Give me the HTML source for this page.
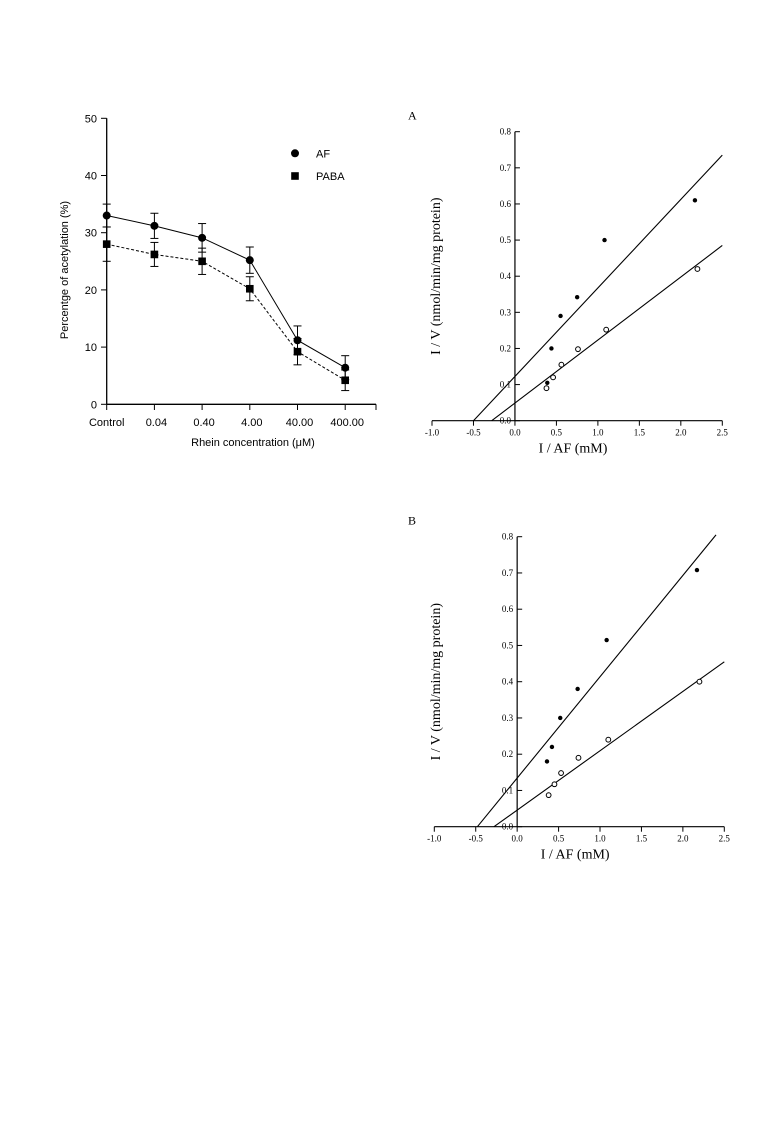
<!DOCTYPE html>
<html><head><meta charset="utf-8"><style>
html,body{margin:0;padding:0;background:#fff}
svg{display:block}
</style></head><body>
<svg id="s" width="784" height="1124" xmlns="http://www.w3.org/2000/svg"></svg>
<script>
// Chart 1 data
const cats=["Control","0.04","0.40","4.00","40.00","400.00"];
const afVals=[33,31.2,29.1,25.2,11.2,6.4];
const afErr=[2,2.2,2.5,2.3,2.5,2.1];
const pabaVals=[28,26.2,25,20.2,9.2,4.2];
const pabaErr=[3,2.1,2.3,2.1,2.3,1.8];
const yTicks1=[0,10,20,30,40,50];
// Chart A data
const aFilledX=[0.39,0.44,0.55,0.75,1.08,2.17];
const aFilledY=[0.105,0.2,0.29,0.342,0.5,0.61];
const aOpenX=[0.38,0.46,0.56,0.76,1.1,2.2];
const aOpenY=[0.09,0.12,0.155,0.198,0.252,0.42];
const aFilledLine=[[-0.5,0],[2.5,0.735]];
const aOpenLine=[[-0.28,0],[2.5,0.485]];
// Chart B data
const bFilledX=[0.36,0.42,0.52,0.73,1.08,2.17];
const bFilledY=[0.18,0.22,0.3,0.38,0.515,0.708];
const bOpenX=[0.38,0.45,0.53,0.74,1.1,2.2];
const bOpenY=[0.087,0.117,0.148,0.19,0.24,0.4];
const bFilledLine=[[-0.48,0],[2.4,0.805]];
const bOpenLine=[[-0.28,0],[2.5,0.455]];
const lbXTicks=["-1.0","-0.5","0.0","0.5","1.0","1.5","2.0","2.5"];
const lbYTicks=["0.0","0.1","0.2","0.3","0.4","0.5","0.6","0.7","0.8"];

const svg=document.getElementById('s');
const NS="http://www.w3.org/2000/svg";
function el(tag,attrs,text,name){const e=document.createElementNS(NS,tag);for(const k in attrs)e.setAttribute(k,attrs[k]);if(text!==undefined&&text!==null)e.textContent=text;


svg.appendChild(e);return e;}

// ---- Chart 1
const x1=i=>106.7+i*47.7;
const y1=v=>404.3-v*5.72;
el('line',{x1:106.7,y1:118.3,x2:106.7,y2:404.3,stroke:'#000','stroke-width':1.3},null,'y-axis');
el('line',{x1:106.7,y1:404.3,x2:376,y2:404.3,stroke:'#000','stroke-width':1.3},null,'x-axis');
yTicks1.forEach(t=>{el('line',{x1:101,y1:y1(t),x2:106.7,y2:y1(t),stroke:'#000'},null,'y-tick');
el('text',{x:97,y:y1(t)+4,'text-anchor':'end','font-family':'Liberation Sans, sans-serif','font-size':11},t,'y-tick-label');});
cats.forEach((c,i)=>{el('line',{x1:x1(i),y1:404.3,x2:x1(i),y2:410,stroke:'#000'},null,'x-tick');
el('text',{x:x1(i)+(i==0?0:2),y:426,'text-anchor':'middle','font-family':'Liberation Sans, sans-serif','font-size':11},c,'x-tick-label');});
el('line',{x1:376,y1:404.3,x2:376,y2:410,stroke:'#000'},null,'x-tick');
el('text',{x:253,y:446,'text-anchor':'middle','font-family':'Liberation Sans, sans-serif','font-size':11},'Rhein concentration (\u03bcM)','x-axis-title');
el('text',{x:68,y:270,'text-anchor':'middle','font-family':'Liberation Sans, sans-serif','font-size':11,transform:'rotate(-90 68 270)'},'Percentge of acetylation (%)','y-axis-title');
function series(vals,errs,dash,shape,name){
 el('polyline',{points:vals.map((v,i)=>x1(i)+','+y1(v)).join(' '),fill:'none',stroke:'#000','stroke-width':1,'stroke-dasharray':dash},null,name+'-line');
 vals.forEach((v,i)=>{const x=x1(i);
  el('line',{x1:x,y1:y1(v-errs[i]),x2:x,y2:y1(v+errs[i]),stroke:'#000'},null,name+'-error-bar');
  el('line',{x1:x-4,y1:y1(v-errs[i]),x2:x+4,y2:y1(v-errs[i]),stroke:'#000'},null,name+'-error-cap');
  el('line',{x1:x-4,y1:y1(v+errs[i]),x2:x+4,y2:y1(v+errs[i]),stroke:'#000'},null,name+'-error-cap');
  if(shape=='c')el('circle',{cx:x,cy:y1(v),r:4},null,name+'-point');else el('rect',{x:x-3.8,y:y1(v)-3.8,width:7.6,height:7.6},null,name+'-point');});
}
series(pabaVals,pabaErr,'3,2','s','paba');
series(afVals,afErr,'none','c','af');
el('circle',{cx:295,cy:153.3,r:4},null,'legend-af-marker');
el('text',{x:316,y:157.5,'font-family':'Liberation Sans, sans-serif','font-size':11},'AF','legend-af-label');
el('rect',{x:291.2,y:172.2,width:7.6,height:7.6},null,'legend-paba-marker');
el('text',{x:316,y:180,'font-family':'Liberation Sans, sans-serif','font-size':11},'PABA','legend-paba-label');

// ---- LB plots
function lb(ox,oy,ytop,xl,xr,label,fx,fy,ox2,oy2,fl,ol,nm){
 const sx=(xr-xl)/3.5, x0=xl+sx; const sy=(oy-ytop)/0.8;
 const X=v=>x0+v*sx, Y=v=>oy-v*sy;
 el('text',{x:ox,y:ytop-12,'font-family':'Liberation Serif, serif','font-size':12},label,nm+'-panel-label');
 el('line',{x1:x0,y1:ytop,x2:x0,y2:oy,stroke:'#000','stroke-width':1.2},null,nm+'-y-axis');
 el('line',{x1:xl,y1:oy,x2:xr,y2:oy,stroke:'#000','stroke-width':1.2},null,nm+'-x-axis');
 lbYTicks.forEach((t,i)=>{const v=i*0.1;el('line',{x1:x0,y1:Y(v),x2:x0+5,y2:Y(v),stroke:'#000'},null,nm+'-y-tick');
  el('text',{x:x0-4,y:Y(v)+3,'text-anchor':'end','font-family':'Liberation Serif, serif','font-size':9},t,nm+'-y-tick-label');});
 lbXTicks.forEach((t,i)=>{const v=-1+i*0.5;el('line',{x1:X(v),y1:oy,x2:X(v),y2:oy+5,stroke:'#000'},null,nm+'-x-tick');
  el('text',{x:X(v),y:oy+15,'text-anchor':'middle','font-family':'Liberation Serif, serif','font-size':9},t,nm+'-x-tick-label');});
 el('text',{x:X(0.7),y:oy+32,'text-anchor':'middle','font-family':'Liberation Serif, serif','font-size':14},'I / AF (mM)',nm+'-x-axis-title');
 const ty=(ytop+oy)/2; const tx=ox+32;
 el('text',{x:tx,y:ty,'text-anchor':'middle','font-family':'Liberation Serif, serif','font-size':14,transform:'rotate(-90 '+tx+' '+ty+')'},'I / V (nmol/min/mg protein)',nm+'-y-axis-title');
 el('line',{x1:X(fl[0][0]),y1:Y(fl[0][1]),x2:X(fl[1][0]),y2:Y(fl[1][1]),stroke:'#000','stroke-width':1.1},null,nm+'-fit-line-filled');
 el('line',{x1:X(ol[0][0]),y1:Y(ol[0][1]),x2:X(ol[1][0]),y2:Y(ol[1][1]),stroke:'#000','stroke-width':1.1},null,nm+'-fit-line-open');
 fx.forEach((v,i)=>el('circle',{cx:X(v),cy:Y(fy[i]),r:2.2},null,nm+'-filled-point'));
 ox2.forEach((v,i)=>el('circle',{cx:X(v),cy:Y(oy2[i]),r:2.4,fill:'#fff',stroke:'#000','stroke-width':1},null,nm+'-open-point'));
}
lb(408,420.7,131.7,432,722.3,'A',aFilledX,aFilledY,aOpenX,aOpenY,aFilledLine,aOpenLine,'plot-a');
lb(408,826.7,536.7,434.3,724.3,'B',bFilledX,bFilledY,bOpenX,bOpenY,bFilledLine,bOpenLine,'plot-b');
</script>
</body></html>
